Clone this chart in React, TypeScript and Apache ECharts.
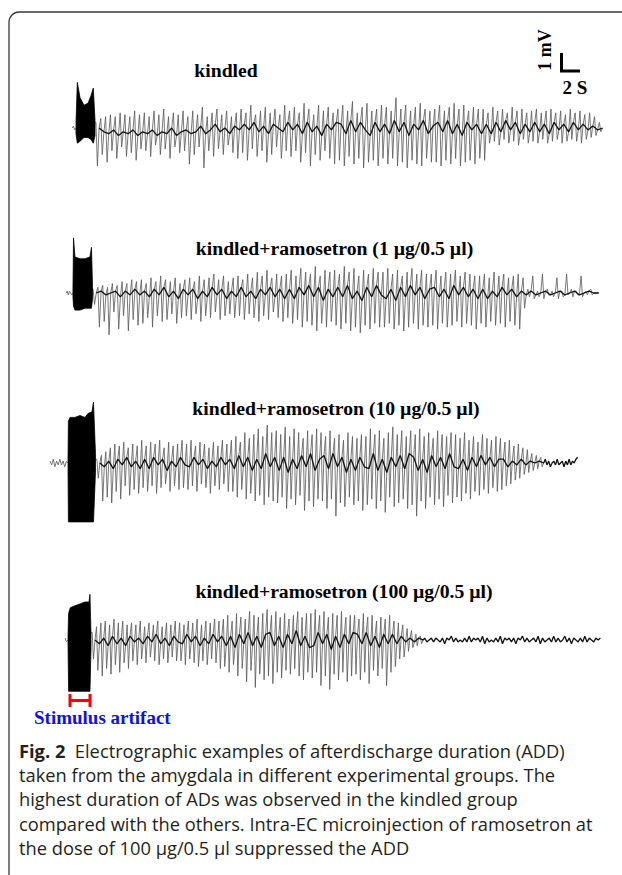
import { useEffect, useRef } from "react";
import * as echarts from "echarts";

// ---------- scale (from the scale bar: 1 mV / 2 s) ----------
const PX_PER_S = 9.5;
const X_MAX_S = 622 / PX_PER_S;
const Y_RANGE_MV = 3.5;

// ---------- labels ----------
const traceTitles = [
  "kindled",
  "kindled+ramosetron (1 µg/0.5 µl)",
  "kindled+ramosetron (10 µg/0.5 µl)",
  "kindled+ramosetron (100 µg/0.5 µl)",
];
const scaleV = "1 mV";
const scaleH = "2 S";
const artifactLabel = "Stimulus artifact";
const captionLines = [
  "Electrographic examples of afterdischarge duration (ADD)",
  "taken from the amygdala in different experimental groups. The",
  "highest duration of ADs was observed in the kindled group",
  "compared with the others. Intra-EC microinjection of ramosetron at",
  "the dose of 100 µg/0.5 µl suppressed the ADD",
];

// ---------- data (amplitudes in 0.1 mV) ----------
// stimulus artifact envelopes: [time s, top, bottom]
const kindledArtifact = [
  [8.0, 3, -3], [8.14, 24, -8], [8.42, 16, -7], [8.84, 12, -5], [9.26, 13, -5],
  [9.58, 17, -6], [9.82, 21, -8], [10.0, 4, -4],
];
const ramo1Artifact = [
  [7.68, 2, -2], [7.74, 29, -7], [7.89, 19, -9], [8.42, 18, -9], [8.95, 18, -8],
  [9.47, 19, -8], [9.63, 24, -8], [9.74, 3, -3],
];
const ramo10Artifact = [
  [7.16, 2, -2], [7.2, 22, -31], [7.37, 24, -31], [7.89, 24, -31], [8.42, 25, -31],
  [8.95, 24, -31], [9.26, 26, -31], [9.68, 27, -31], [9.84, 32, -31], [10.05, 5, -5],
];
const ramo100Artifact = [
  [7.16, 2, -2], [7.22, 14, -27], [7.4, 17, -27], [7.89, 18, -27], [8.42, 19, -27],
  [8.95, 20, -27], [9.37, 20, -27], [9.47, 24, -27], [9.58, 3, -4],
];

// pre-stimulus baselines
const kindledPre = [0, 1, -1, 0];
const ramo1Pre = [0, 1, -1, 1, 0, -1, 0];
const ramo10Pre = [1, -1, 2, -2, 1, -1, 2, -1, 1, -2, 1, 0];
const ramo100Pre = [1, -1, 0];

// discharges: upward peak, downward trough and the core value after each spike
const kindledUp = [
  3, 5, 6, 7, 6, 8, 7, 6, 9, 7,
  8, 6, 9, 7, 10, 6, 8, 7, 9, 6,
  9, 7, 11, 6, 8, 10, 7, 9, 6, 8,
  10, 8, 12, 7, 9, 11, 8, 10, 7, 12,
  9, 11, 8, 13, 10, 7, 12, 9, 11, 8,
  10, 12, 9, 14, 8, 11, 13, 9, 10, 12,
  11, 9, 16, 10, 12, 9, 11, 13, 10, 9,
  10, 12, 9, 11, 13, 10, 12, 9, 11, 10,
  10, 8, 11, 9, 10, 8, 11, 9, 10, 8,
  9, 10, 8, 9, 10, 8, 9, 7, 10, 8, 9, 7, 8, 6, 3,
];
const kindledDown = [
  -20, -14, -18, -12, -16, -10, -15, -13, -17, -11,
  -12, -15, -9, -14, -11, -16, -10, -13, -12, -19,
  -14, -10, -21, -12, -15, -11, -14, -9, -13, -16,
  -13, -17, -11, -15, -12, -18, -14, -10, -16, -12,
  -15, -12, -18, -13, -20, -14, -17, -12, -16, -19,
  -17, -20, -15, -19, -16, -21, -18, -17, -20, -16,
  -19, -16, -20, -18, -21, -17, -19, -20, -16, -18,
  -18, -20, -17, -19, -16, -20, -18, -17, -19, -16,
  -17, -8, -7, -9, -6, -8, -7, -9, -6, -8,
  -7, -8, -6, -8, -7, -6, -8, -7, -6, -7, -8, -6, -5, -4, -2,
];
const kindledCore = [
  0, -2, -3, -1, -4, -2, -3, -1, -4, -2,
  -3, -1, -4, -2, -3, 0, -4, -2, -1, -3,
  -2, 1, -3, -1, 2, -2, 0, -3, 1, -1,
  2, -1, 3, -2, 1, -3, 2, 0, -2, 3,
  -1, 2, -3, 3, -2, 1, -4, 2, -1, 3,
  2, -3, 4, -2, 3, -1, -4, 3, -2, 2,
  -3, 4, -2, 3, -4, 2, -1, 4, -3, 1,
  3, -2, 4, -3, 2, -4, 3, -1, 2, -3,
  2, -3, 3, -2, 4, -1, 3, -3, 2, -2,
  3, -2, 2, -3, 3, -1, 2, -2, 3, -1, 2, -1, 1, -1, 0,
];

const ramo1Up = [
  2, 3, 4, 3, 5, 4, 6, 5, 7, 6,
  7, 5, 8, 6, 9, 7, 6, 8, 5, 7,
  8, 6, 9, 7, 8, 10, 7, 9, 6, 8,
  9, 7, 10, 8, 11, 9, 12, 8, 10, 9,
  10, 12, 9, 13, 11, 10, 14, 9, 12, 11,
  12, 10, 14, 11, 13, 9, 12, 10, 13, 11,
  11, 13, 10, 12, 9, 11, 13, 10, 12, 10,
  10, 12, 9, 11, 10, 12, 9, 11, 10, 9,
  9, 10, 8, 11, 9, 10, 8, 9, 10, 8,
  2, 9, 1, 10, 2, 1, 8, 1, 10, 2, 1, 9, 1, 2, 0,
];
const ramo1Down = [
  -6, -18, -15, -22, -10, -19, -12, -20, -14, -17,
  -16, -13, -18, -12, -15, -14, -11, -16, -13, -12,
  -14, -11, -15, -12, -13, -10, -14, -12, -11, -13,
  -12, -14, -11, -13, -15, -12, -14, -10, -13, -15,
  -13, -16, -14, -18, -15, -17, -20, -16, -18, -15,
  -17, -19, -16, -20, -18, -21, -17, -19, -16, -18,
  -18, -16, -19, -17, -20, -18, -16, -19, -17, -18,
  -17, -19, -16, -18, -17, -15, -18, -16, -17, -19,
  -16, -18, -15, -17, -16, -18, -15, -17, -19, -8,
  -2, -3, -2, -3, -1, -2, -3, -2, -1, -2, -1, -2, -1, -1, 0,
];
const ramo1Core = [
  0, 1, -1, 0, 1, -2, 1, -1, 2, -1,
  1, -2, 2, -1, 3, -2, 1, -3, 2, -1,
  2, -3, 1, -2, 3, -1, 2, -3, 1, -2,
  3, -2, 1, -3, 2, -1, 3, -2, 2, -3,
  2, -3, 3, -1, 4, -2, 3, -4, 2, -2,
  3, -2, 4, -3, 1, -4, 3, -2, 4, -1,
  -3, 2, -4, 3, -2, 4, -1, 3, -3, 2,
  3, -2, 2, -3, 4, -1, 3, -2, 2, -3,
  2, -3, 1, -2, 3, -1, 2, -2, 1, -1,
  1, -1, 0, 1, -1, 0, 1, -1, 0, 1, -1, 0, 1, 0, 0,
];

const ramo10Up = [
  2, 4, 6, 8, 10, 9, 11, 8, 10, 9,
  12, 9, 11, 10, 12, 8, 11, 9, 10, 12,
  10, 12, 9, 11, 10, 8, 11, 9, 12, 10,
  12, 14, 11, 16, 13, 15, 18, 14, 20, 16,
  17, 15, 19, 14, 18, 16, 13, 17, 15, 18,
  16, 14, 17, 13, 15, 12, 16, 14, 13, 15,
  14, 18, 15, 17, 13, 16, 19, 15, 17, 14,
  17, 15, 18, 14, 16, 13, 17, 15, 14, 16,
  15, 13, 16, 12, 14, 11, 15, 13, 12, 14,
  13, 11, 12, 9, 10, 8, 7, 5, 4, 3,
];
const ramo10Down = [
  -8, -20, -18, -21, -15, -19, -12, -17, -14, -16,
  -13, -15, -12, -16, -13, -11, -15, -12, -14, -13,
  -14, -12, -15, -11, -13, -16, -12, -14, -11, -15,
  -15, -18, -14, -19, -16, -20, -17, -22, -18, -20,
  -21, -18, -24, -19, -22, -17, -25, -20, -23, -19,
  -20, -24, -19, -28, -21, -23, -18, -22, -20, -25,
  -22, -19, -24, -20, -26, -18, -23, -21, -19, -24,
  -22, -28, -20, -24, -18, -22, -19, -23, -17, -21,
  -18, -20, -16, -19, -15, -17, -14, -16, -13, -15,
  -14, -12, -11, -9, -8, -6, -5, -4, -3, -2,
];
const ramo10Core = [
  0, -2, 1, -3, 2, -1, 3, -2, 1, -3,
  2, -3, 3, -1, 2, -4, 1, -2, 3, -1,
  -2, 3, -1, 2, -3, 1, -2, 3, -1, 2,
  -3, 4, -2, 3, -4, 2, -3, 5, -2, 3,
  -4, 3, -5, 2, -3, 4, -2, 5, -4, 2,
  4, -3, 5, -2, 3, -5, 2, -4, 3, -2,
  -3, 5, -4, 2, -5, 3, -2, 4, -3, 5,
  3, -4, 2, -5, 4, -2, 3, -3, 5, -2,
  -3, 2, -4, 3, -2, 4, -1, 3, -2, 2,
  2, -2, 1, -1, 2, -1, 1, 0, 1, 0,
];
const ramo10Tail = [
  2, -1, 1, -2, 0, 1, -1, 2, -1, 0,
  1, -2, 1, -1, 2, -1, 1, 0, 2, 3,
];

const ramo100Up = [
  4, 7, 9, 10, 8, 11, 9, 10, 8, 9,
  8, 10, 7, 9, 8, 10, 7, 9, 8, 10,
  9, 8, 10, 9, 11, 8, 10, 9, 11, 10,
  11, 13, 10, 14, 12, 11, 15, 13, 12, 14,
  16, 13, 15, 12, 14, 11, 13, 15, 12, 14,
  14, 16, 13, 15, 12, 14, 13, 15, 12, 13,
  13, 11, 14, 12, 13, 10, 12, 11, 13, 10,
  9, 8, 6, 5, 3, 2,
];
const ramo100Down = [
  -10, -16, -19, -15, -18, -13, -17, -12, -15, -11,
  -13, -10, -12, -9, -11, -13, -10, -12, -9, -11,
  -11, -13, -10, -12, -14, -11, -13, -10, -12, -15,
  -14, -17, -13, -19, -15, -22, -16, -25, -18, -21,
  -19, -23, -17, -20, -16, -18, -15, -19, -21, -17,
  -20, -17, -24, -19, -26, -18, -21, -17, -22, -19,
  -18, -21, -17, -23, -16, -19, -15, -24, -17, -14,
  -10, -9, -6, -4, -3, -2,
];
const ramo100Core = [
  0, -2, 1, -3, 2, -2, 1, -3, 2, -1,
  1, -2, 2, -1, 3, -2, 1, -3, 2, -1,
  -2, 3, -1, 2, -3, 1, -2, 3, -1, 2,
  -3, 2, -4, 3, -2, 4, -3, 2, -4, 3,
  4, -3, 2, -4, 3, -2, 5, -3, 2, -4,
  -3, 4, -2, 3, -5, 2, -4, 3, -2, 4,
  3, -2, 4, -3, 2, -4, 3, -2, 3, -2,
  2, -1, 1, -1, 1, 0,
];
const ramo100Tail = [
  1, -1, 0, 1, -1, 1, 0, -1, 1, -2,
  1, 0, 2, -1, 1, -1, 0, -1, 1, -1,
  2, -1, 1, 0, 1, -1, 2, -2, 1, -1,
  0, -1, 1, -1, 2, -2, 1, 0, 1, -1,
  1, -2, 1, 0, 2, -1, 1, -1, 0, 1,
  -1, 2, -2, 1, -1, 0, 1, -1, 2, -1,
  1, -1, 0, 2, -1, 1, -2, 1, 0, -1,
  1, -1, 2, -1, 1, 0, -1, 1, 0, 1,
];

// ---------- layout (page pixels / seconds) ----------
const traces = [
  {
    baseline: 128, artifact: kindledArtifact,
    pre: kindledPre, preStart: 7.6, preEnd: 8.0,
    up: kindledUp, down: kindledDown, core: kindledCore, spikeStart: 10.1, spikeEnd: 63.6,
    tail: [] as number[], tailStart: 0, tailEnd: 0,
    titleX: 226, titleY: 70,
  },
  {
    baseline: 293, artifact: ramo1Artifact,
    pre: ramo1Pre, preStart: 6.95, preEnd: 7.68,
    up: ramo1Up, down: ramo1Down, core: ramo1Core, spikeStart: 9.8, spikeEnd: 63.2,
    tail: [] as number[], tailStart: 0, tailEnd: 0,
    titleX: 334.5, titleY: 248,
  },
  {
    baseline: 463, artifact: ramo10Artifact,
    pre: ramo10Pre, preStart: 5.26, preEnd: 7.16,
    up: ramo10Up, down: ramo10Down, core: ramo10Core, spikeStart: 10.2, spikeEnd: 57.4,
    tail: ramo10Tail, tailStart: 57.4, tailEnd: 60.8,
    titleX: 336, titleY: 408,
  },
  {
    baseline: 640, artifact: ramo100Artifact,
    pre: ramo100Pre, preStart: 6.84, preEnd: 7.16,
    up: ramo100Up, down: ramo100Down, core: ramo100Core, spikeStart: 9.7, spikeEnd: 44.7,
    tail: ramo100Tail, tailStart: 44.7, tailEnd: 63.2,
    titleX: 344, titleY: 591,
  },
];

type Trace = (typeof traces)[number];

function spaced(vals: number[], a: number, b: number) {
  const n = vals.length;
  return vals.map((v, i) => [a + (i * (b - a)) / Math.max(1, n - 1), v / 10]);
}

function buildSpikes(t: Trace) {
  const pts: number[][] = [...spaced(t.pre, t.preStart, t.preEnd)];
  const n = t.up.length;
  const step = (t.spikeEnd - t.spikeStart) / n;
  for (let i = 0; i < n; i++) {
    const t0 = t.spikeStart + i * step;
    pts.push([t0, t.up[i] / 10]);
    pts.push([t0 + 0.3 * step, t.down[i] / 10]);
    pts.push([t0 + 0.65 * step, t.core[i] / 10]);
  }
  return pts;
}

function buildCore(t: Trace) {
  const n = t.up.length;
  const step = (t.spikeEnd - t.spikeStart) / n;
  const pts: number[][] = t.core.map((c, i) => [t.spikeStart + (i + 0.65) * step, c / 10]);
  return pts.concat(spaced(t.tail, t.tailStart, t.tailEnd));
}

const SERIF = "'Liberation Serif', 'Times New Roman', serif";
const SANS = "'Open Sans', 'Noto Sans', sans-serif";

export default function App() {
  const ref = useRef<HTMLDivElement>(null);

  useEffect(() => {
    if (!ref.current) return;
    const chart = echarts.init(ref.current, null, { renderer: "svg" });

    const grids: any[] = [];
    const xAxes: any[] = [];
    const yAxes: any[] = [];
    const series: any[] = [];

    traces.forEach((t, k) => {
      const h = Y_RANGE_MV * 2 * 19;
      grids.push({ left: 0, right: 0, top: t.baseline - h / 2, height: h });
      xAxes.push({ gridIndex: k, type: "value", min: 0, max: X_MAX_S, show: false });
      yAxes.push({ gridIndex: k, type: "value", min: -Y_RANGE_MV, max: Y_RANGE_MV, show: false });
      series.push({
        type: "line",
        xAxisIndex: k,
        yAxisIndex: k,
        data: buildSpikes(t),
        showSymbol: false,
        symbol: "none",
        lineStyle: { color: "#585858", width: 0.8 },
        z: 2,
      });
      series.push({
        type: "line",
        xAxisIndex: k,
        yAxisIndex: k,
        data: buildCore(t),
        showSymbol: false,
        symbol: "none",
        lineStyle: { color: "#111", width: 1.3 },
        z: 3,
      });
      const env = t.artifact;
      series.push({
        type: "custom",
        xAxisIndex: k,
        yAxisIndex: k,
        data: env.map((p) => [p[0], p[1] / 10, p[2] / 10]),
        z: 4,
        renderItem: (params: any, api: any) => {
          if (params.dataIndex !== 0) return null;
          const top = env.map((p) => api.coord([p[0], p[1] / 10]));
          const bot = env.map((p) => api.coord([p[0], p[2] / 10])).reverse();
          return {
            type: "polygon",
            shape: { points: top.concat(bot) },
            style: { fill: "#000", stroke: "#000", lineWidth: 0.8 },
          };
        },
      });
    });

    const graphic: any[] = [
      {
        type: "rect",
        shape: { x: 9, y: 12, width: 700, height: 900, r: 10 },
        style: { fill: "none", stroke: "#3a3a3a", lineWidth: 1.3 },
        z: 1,
      },
      ...traces.map((t, k) => ({
        type: "text",
        x: t.titleX,
        y: t.titleY,
        style: {
          text: traceTitles[k],
          font: `bold 19.7px ${SERIF}`,
          fill: "#000",
          align: "center",
          verticalAlign: "middle",
        },
        z: 10,
      })),
      // scale bar
      {
        type: "polyline",
        shape: { points: [[561.5, 53], [561.5, 71], [580, 71]] },
        style: { stroke: "#000", lineWidth: 3, fill: "none" },
        z: 10,
      },
      {
        type: "text",
        x: 545,
        y: 50,
        rotation: Math.PI / 2,
        style: {
          text: scaleV,
          font: `bold 18px ${SERIF}`,
          fill: "#000",
          align: "center",
          verticalAlign: "middle",
        },
        z: 10,
      },
      {
        type: "text",
        x: 575,
        y: 87,
        style: {
          text: scaleH,
          font: `bold 19px ${SERIF}`,
          fill: "#000",
          align: "center",
          verticalAlign: "middle",
        },
        z: 10,
      },
      // stimulus artifact marker
      {
        type: "polyline",
        shape: { points: [[70, 694], [70, 707]] },
        style: { stroke: "#ff0000", lineWidth: 3 },
        z: 10,
      },
      {
        type: "polyline",
        shape: { points: [[90, 694], [90, 707]] },
        style: { stroke: "#ff0000", lineWidth: 3 },
        z: 10,
      },
      {
        type: "polyline",
        shape: { points: [[70, 700.5], [90, 700.5]] },
        style: { stroke: "#ff0000", lineWidth: 3 },
        z: 10,
      },
      {
        type: "text",
        x: 34,
        y: 717,
        style: {
          text: artifactLabel,
          font: `bold 19px ${SERIF}`,
          fill: "#1010e8",
          align: "left",
          verticalAlign: "middle",
        },
        z: 10,
      },
      // caption
      ...captionLines.map((line, i) => ({
        type: "text",
        x: 19,
        y: 750 + i * 24.4,
        style: {
          text: i === 0 ? `{b|Fig. 2}  ${line}` : line,
          font: `18.3px ${SANS}`,
          fill: "#231f20",
          align: "left",
          verticalAlign: "middle",
          rich: {
            b: { font: `bold 18.3px ${SANS}`, fill: "#231f20" },
          },
        },
        z: 10,
      })),
    ];

    chart.setOption({
      animation: false,
      backgroundColor: "#fff",
      grid: grids,
      xAxis: xAxes,
      yAxis: yAxes,
      series,
      graphic,
    });

    return () => chart.dispose();
  }, []);

  return (
    <div
      ref={ref}
      style={{ position: "absolute", left: 0, top: 0, width: 622, height: 875 }}
    />
  );
}
